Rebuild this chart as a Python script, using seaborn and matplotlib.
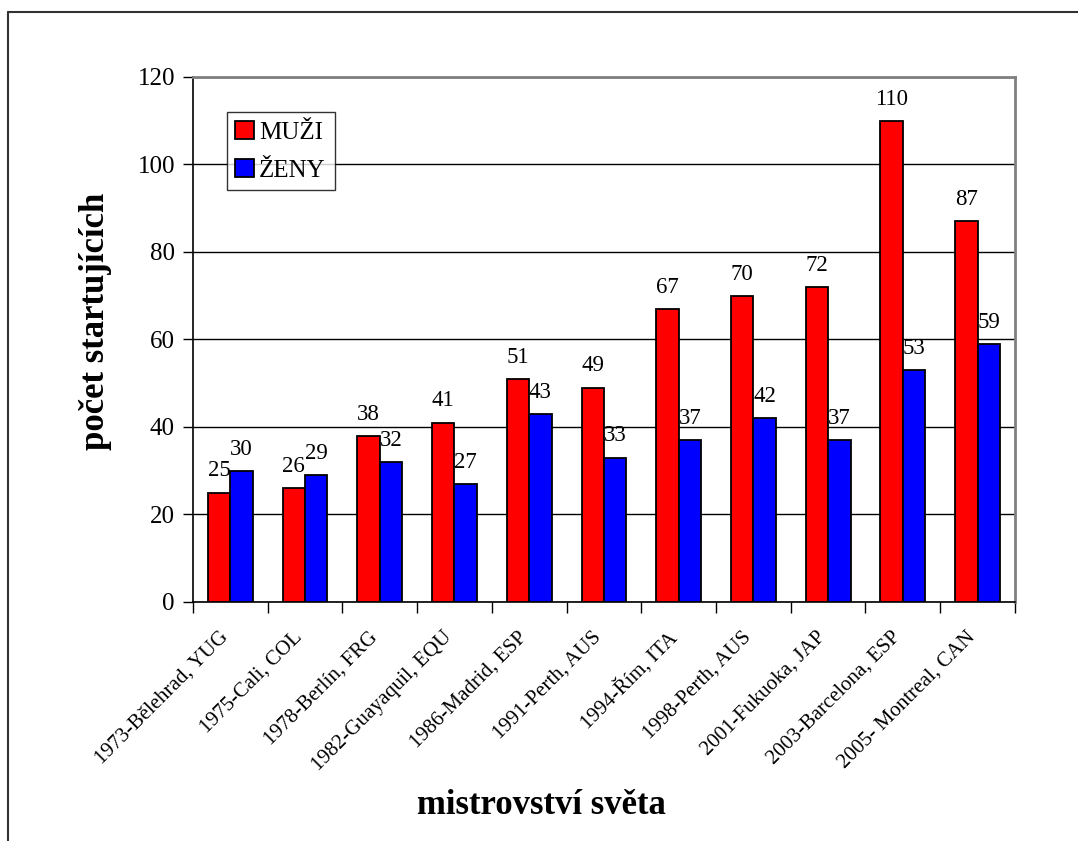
import matplotlib
matplotlib.use("Agg")
import matplotlib.pyplot as plt
import matplotlib.transforms as mtransforms
import seaborn as sns
import pandas as pd
from matplotlib.lines import Line2D
from matplotlib.ticker import FixedLocator, NullFormatter

# data
championships = ["1973-Bělehrad, YUG", "1975-Cali, COL", "1978-Berlín, FRG",
                 "1982-Guayaquil, EQU", "1986-Madrid, ESP", "1991-Perth, AUS",
                 "1994-Řím, ITA", "1998-Perth, AUS", "2001-Fukuoka, JAP",
                 "2003-Barcelona, ESP", "2005- Montreal, CAN"]
men = [25, 26, 38, 41, 51, 49, 67, 70, 72, 110, 87]
women = [30, 29, 32, 27, 43, 33, 37, 42, 37, 53, 59]
groups = ["MUŽI", "ŽENY"]
y_ticks = [0, 20, 40, 60, 80, 100, 120]

df = pd.DataFrame({
    "champ": championships * 2,
    "group": [groups[0]] * len(men) + [groups[1]] * len(women),
    "value": men + women,
})

sns.set_theme(style="white")
plt.rcParams["font.family"] = ["Liberation Serif", "DejaVu Serif"]
for key in ["text.color", "axes.labelcolor", "xtick.color", "ytick.color"]:
    plt.rcParams[key] = "black"

fig = plt.figure(figsize=(10.78, 8.41), dpi=100)
ax = fig.add_axes([0.179, 0.2842, 0.7625, 0.6243])

sns.barplot(data=df, x="champ", y="value", hue="group",
            palette={"MUŽI": "#FF0000", "ŽENY": "#0000FF"},
            width=0.6, edgecolor="black", linewidth=1.3, saturation=1,
            ax=ax, zorder=3)

for cont in ax.containers:
    ax.bar_label(cont, padding=8, fontsize=16.5)

ax.set_xlim(-0.5, len(championships) - 0.5)
ax.set_ylim(0, 120)
ax.set_yticks(y_ticks)
ax.tick_params(axis="y", labelsize=18, direction="out", length=7, width=1,
               color="black", left=True, pad=6)
ax.yaxis.grid(True, color="black", linewidth=1, zorder=0)
ax.set_axisbelow(True)

# category ticks at group boundaries, labels at centres
ax.xaxis.set_minor_locator(FixedLocator([i - 0.5 for i in range(len(championships) + 1)]))
ax.xaxis.set_minor_formatter(NullFormatter())
ax.tick_params(axis="x", which="minor", bottom=True, direction="out",
               length=8, width=1, color="black")
ax.tick_params(axis="x", which="major", bottom=False, length=0, pad=17)
ax.set_xticks(range(len(championships)))
ax.set_xticklabels(championships, rotation=45, ha="right",
                   rotation_mode="anchor", fontsize=15)
shift = mtransforms.ScaledTranslation(-0.12, -0.02, fig.dpi_scale_trans)
for lbl in ax.get_xticklabels():
    lbl.set_transform(lbl.get_transform() + shift)

for side in ["left", "bottom"]:
    ax.spines[side].set_color("black")
    ax.spines[side].set_linewidth(1.2)
for side in ["right", "top"]:
    ax.spines[side].set_color("#808080")
    ax.spines[side].set_linewidth(2)

ax.set_xlabel("mistrovství světa", fontsize=25, fontweight="bold")
ax.set_ylabel("počet startujících", fontsize=25, fontweight="bold")
ax.xaxis.set_label_coords(0.4234, -0.387)
ax.yaxis.set_label_coords(-0.119, 0.535)
ax.xaxis.label.set_va("center")
ax.yaxis.label.set_va("center")

leg = ax.legend(loc="upper left", bbox_to_anchor=(0.041, 0.933),
                borderaxespad=0, fontsize=18, frameon=True, fancybox=False,
                handlelength=0.75, handleheight=0.75, handletextpad=0.2,
                labelspacing=0.6, borderpad=0.35)
leg.get_frame().set_edgecolor("black")
leg.get_frame().set_linewidth(1)
leg.set_title(None)

# outer frame (clipped on right and bottom)
fig.add_artist(Line2D([8 / 1078, 8 / 1078], [0, 1 - 12 / 841],
                      transform=fig.transFigure, color="#333333", lw=1.5))
fig.add_artist(Line2D([8 / 1078, 1], [1 - 12 / 841, 1 - 12 / 841],
                      transform=fig.transFigure, color="#333333", lw=1.5))

fig.savefig("out.png", dpi=100)
